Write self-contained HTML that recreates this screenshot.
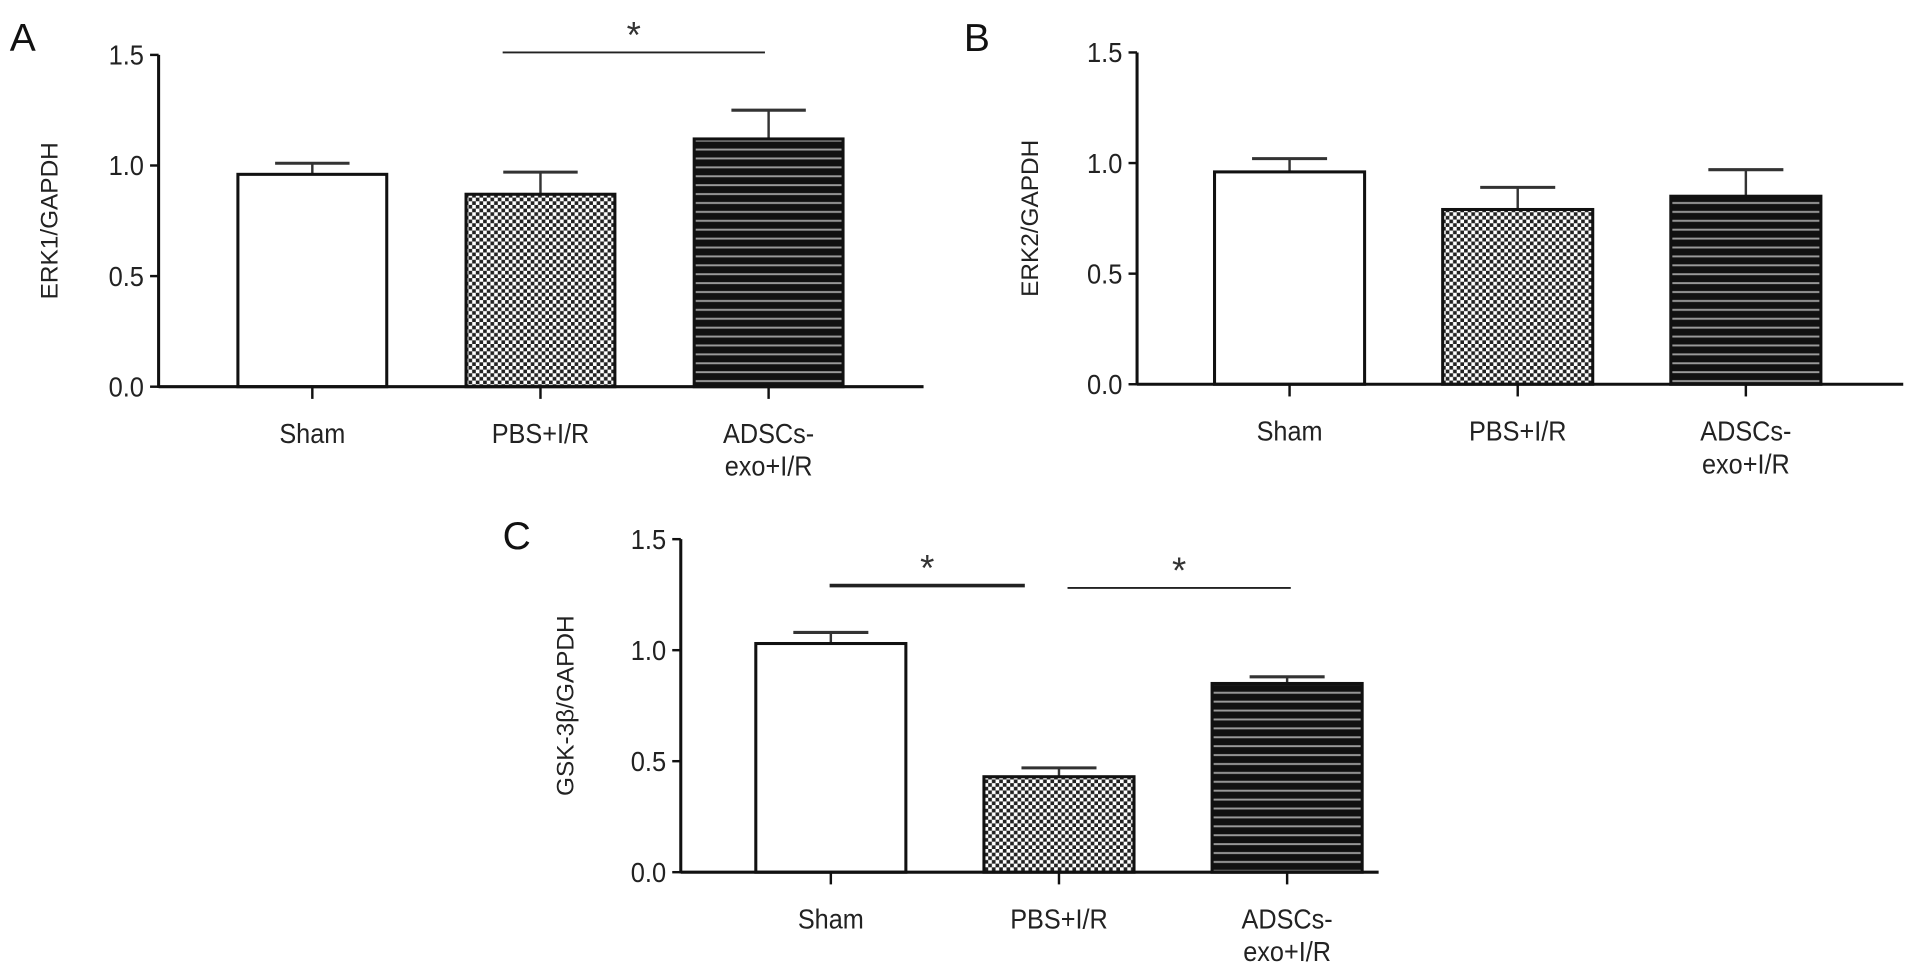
<!DOCTYPE html>
<html><head><meta charset="utf-8"><style>
html,body{margin:0;padding:0;background:#fff;}
svg{display:block;font-family:"Liberation Sans",Arial,sans-serif;}
</style></head><body>
<svg id="fig" width="1913" height="971" viewBox="0 0 1568 796" preserveAspectRatio="none" xmlns="http://www.w3.org/2000/svg">
<defs>
<pattern id="check" width="6" height="6" patternUnits="userSpaceOnUse">
<rect width="6" height="6" fill="#fff"/><rect width="3" height="3" fill="#222"/><rect x="3" y="3" width="3" height="3" fill="#222"/>
</pattern>
<pattern id="stripe" width="8" height="7.3" patternUnits="userSpaceOnUse">
<rect width="8" height="7.3" fill="#111"/><rect y="5" width="8" height="1.6" fill="#9a9a9a"/>
</pattern>
</defs>
</svg>
<script>
const categories = ["Sham", "PBS+I/R", "ADSCs-\nexo+I/R"];
const erk1Values = [0.96, 0.87, 1.12];
const erk1Errors = [0.05, 0.10, 0.13];
const erk2Values = [0.96, 0.79, 0.85];
const erk2Errors = [0.06, 0.10, 0.12];
const gskValues = [1.03, 0.43, 0.85];
const gskErrors = [0.05, 0.04, 0.03];
const yTicks = [0.0, 0.5, 1.0, 1.5];
const yTickLabels = ["0.0", "0.5", "1.0", "1.5"];

const NS = "http://www.w3.org/2000/svg";
const svg = document.getElementById("fig");
function mk(tag, attrs, parent){ const e=document.createElementNS(NS,tag); for(const k in attrs) e.setAttribute(k,attrs[k]); (parent||svg).appendChild(e); return e; }

const fills = ["#fff", "url(#check)", "url(#stripe)"];

function panel(cfg){
  const g = mk("g",{});
  
  
  const y = v => cfg.y0 - (v/1.5)*(cfg.y0-cfg.y15);
  const x = i => cfg.c0 + i*cfg.step;
  const lbl = mk("text",{x:cfg.lx,y:cfg.ly,"font-size":32,fill:"#111"},g); lbl.textContent=cfg.letter;
  
  
  cfg.values.forEach((v,i)=>{
    const bw=cfg.bw;
    const top=y(v+cfg.errors[i]);
    const eb = mk("line",{x1:x(i),x2:x(i),y1:y(v),y2:top,stroke:"#333","stroke-width":2},g);
    
    
    const cap = mk("line",{x1:x(i)-bw*0.25,x2:x(i)+bw*0.25,y1:top,y2:top,stroke:"#333","stroke-width":2.5},g);
    
    
    const r = mk("rect",{x:x(i)-bw/2,y:y(v),width:bw,height:y(0)-y(v),fill:fills[i],stroke:"#111","stroke-width":2.5},g);
    
    
  });
  const ya = mk("line",{x1:cfg.ax,x2:cfg.ax,y1:y(1.5),y2:y(0)+1,stroke:"#111","stroke-width":2.5},g);
  
  
  const xa = mk("line",{x1:cfg.ax,x2:cfg.axEnd,y1:y(0),y2:y(0),stroke:"#111","stroke-width":2.5},g);
  
  
  yTicks.forEach((t,i)=>{
    const tk = mk("line",{x1:cfg.ax-7,x2:cfg.ax,y1:y(t),y2:y(t),stroke:"#111","stroke-width":2},g);
    
    
    const tl = mk("text",{x:cfg.ax-12,y:y(t)+8,"font-size":23,"text-anchor":"end",textLength:29,lengthAdjust:"spacingAndGlyphs",fill:"#222"},g);
    tl.textContent=yTickLabels[i];
    
    
  });
  categories.forEach((c,i)=>{
    const tk = mk("line",{x1:x(i),x2:x(i),y1:y(0),y2:y(0)+10,stroke:"#111","stroke-width":2},g);
    
    
    c.split("\n").forEach((line,j)=>{
      const t = mk("text",{x:x(i),y:y(0)+46+j*27,"font-size":23,"text-anchor":"middle",fill:"#222",transform:`translate(${x(i)},0) scale(0.9,1) translate(${-x(i)},0)`},g);
      t.textContent=line;
      
      
    });
  });
  const yt = mk("text",{x:0,y:0,"font-size":20,"text-anchor":"middle",fill:"#222",transform:`translate(${cfg.tx},${(y(0)+y(1.5))/2}) rotate(-90)`},g);
  yt.textContent=cfg.title;
  
  
  (cfg.sig||[]).forEach(s=>{
    const l = mk("line",{x1:s[0],x2:s[1],y1:s[2],y2:s[2],stroke:"#222","stroke-width":s[3]},g);
    
    
    const st = mk("text",{x:(s[0]+s[1])/2,y:s[2]-4,"font-size":30,"text-anchor":"middle",fill:"#333"},g);
    st.textContent="*";
    
    
  });
}

panel({letter:"A",lx:8,ly:42,ax:130,axEnd:757,y0:317,y15:45,c0:256,step:187,bw:122,values:erk1Values,errors:erk1Errors,title:"ERK1/GAPDH",tx:47,sig:[[412,627,43,1.5]]});
panel({letter:"B",lx:790,ly:42,ax:932,axEnd:1560,y0:315,y15:43,c0:1057,step:187,bw:123,values:erk2Values,errors:erk2Errors,title:"ERK2/GAPDH",tx:851});
panel({letter:"C",lx:412,ly:450,ax:558,axEnd:1130,y0:715,y15:442,c0:681,step:187,bw:123,values:gskValues,errors:gskErrors,title:"GSK-3β/GAPDH",tx:470,sig:[[680,840,480,3],[875,1058,482,1.5]]});
</script>
</body></html>
